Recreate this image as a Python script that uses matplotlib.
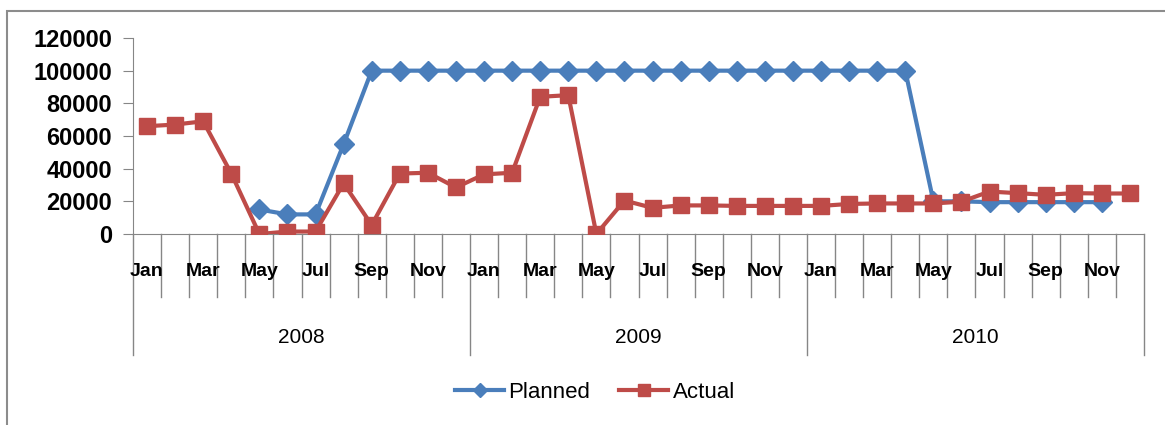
import numpy as np
import matplotlib.pyplot as plt
from matplotlib.patches import Rectangle
from matplotlib.transforms import blended_transform_factory

years = ['2008', '2009', '2010']
months = ['Jan', 'Feb', 'Mar', 'Apr', 'May', 'Jun',
          'Jul', 'Aug', 'Sep', 'Oct', 'Nov', 'Dec']
shown_months = ['Jan', 'Mar', 'May', 'Jul', 'Sep', 'Nov']

nan = np.nan
planned = [nan, nan, nan, nan, 15000, 12000, 12000, 55000, 100000, 100000, 100000, 100000,
           100000, 100000, 100000, 100000, 100000, 100000, 100000, 100000, 100000, 100000, 100000, 100000,
           100000, 100000, 100000, 100000, 20000, 20000, 19500, 19500, 19500, 19500, 19500, nan]
actual = [66000, 67000, 69000, 37000, 0, 1500, 1500, 31000, 5500, 37000, 37500, 28500,
          36500, 37500, 84000, 85000, 0, 20500, 16000, 17500, 17500, 17200, 17200, 17200,
          17200, 18400, 18700, 18700, 18700, 19800, 26000, 25000, 24000, 25000, 24800, 24800]

blue = '#4A7EBB'
red = '#BE4B48'
grey = '#868686'

plt.rcParams['font.family'] = ['Liberation Sans', 'DejaVu Sans']

fig = plt.figure(figsize=(11.65, 4.25), dpi=100)
ax = fig.add_axes([133 / 1165, 1 - 234 / 425, (1144 - 133) / 1165, 196 / 425])

x = np.arange(len(actual))
ax.plot(x, planned, color=blue, lw=3, marker='D', ms=10, label='Planned', zorder=3)
ax.plot(x, actual, color=red, lw=3, marker='s', ms=12, label='Actual', zorder=4)

ax.set_xlim(-0.5, len(actual) - 0.5)
ax.set_ylim(0, 120000)
ax.set_yticks(np.arange(0, 120001, 20000))
ax.tick_params(axis='y', direction='out', length=7, color=grey, labelsize=17, pad=8)
for lab in ax.get_yticklabels():
    lab.set_fontweight('bold')
ax.set_xticks([])
for s in ['top', 'right']:
    ax.spines[s].set_visible(False)
ax.spines['left'].set_color(grey)
ax.spines['bottom'].set_color(grey)

# two-level category axis
tr = blended_transform_factory(ax.transData, ax.transAxes)
for i in range(len(actual) + 1):
    b = i - 0.5
    low = -0.617 if i % 12 == 0 else -0.321
    ax.plot([b, b], [0, low], color=grey, lw=1, transform=tr, clip_on=False)
for yi, yr in enumerate(years):
    for mi, m in enumerate(months):
        if m in shown_months:
            ax.text(yi * 12 + mi, -0.19, m, transform=tr, ha='center', va='center',
                    fontsize=14, fontweight='bold')
    ax.text(yi * 12 + 5.5, -0.526, yr, transform=tr, ha='center', va='center',
            fontsize=15)

fig.legend(loc='center', bbox_to_anchor=(595 / 1165, 1 - 392 / 425), ncol=2,
           frameon=False, handlelength=2.2, handletextpad=0.2, columnspacing=1.3,
           markerscale=0.75, prop={'size': 16})

fig.patches.append(Rectangle((7 / 1165, -0.1), 1.2, 1.1 - 11 / 425, transform=fig.transFigure,
                             fill=False, edgecolor='#8c8c8c', lw=1.5))

fig.savefig('out.png', dpi=100)
